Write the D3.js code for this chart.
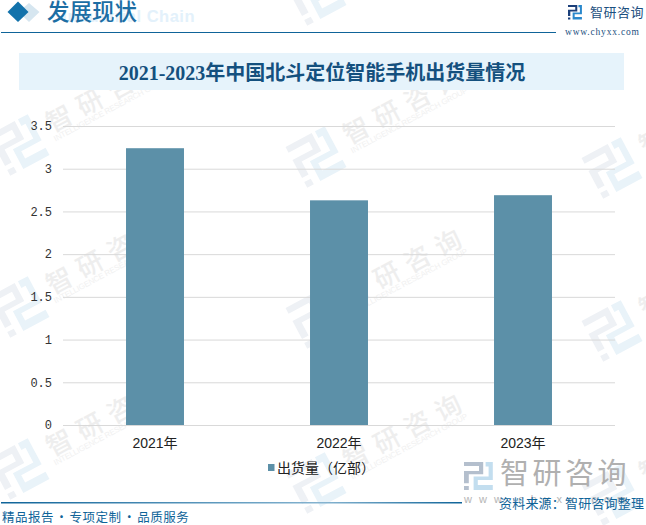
<!DOCTYPE html>
<html>
<head>
<meta charset="utf-8">
<script src="https://cdn.jsdelivr.net/npm/d3@7"></script>
<style>
body { margin: 0; background: #fff; }
text { font-family: "Noto Sans CJK SC", sans-serif; }
</style>
</head>
<body>
<div id="chart"></div>
<script>
// data
var years = ["2021年", "2022年", "2023年"];
var shipments = [3.24, 2.63, 2.69];
var yTicks = [0, 0.5, 1, 1.5, 2, 2.5, 3, 3.5];
var seriesName = "出货量（亿部）";
var chartTitle = "2021-2023年中国北斗定位智能手机出货量情况";

var width = 646, height = 525;
var margin = { top: 126, right: 31, bottom: 100, left: 63 };

var svg = d3.select("#chart").append("svg")
    .attr("width", width)
    .attr("height", height)
    .style("display", "block");

var defs = svg.append("defs");
var footGrad = defs.append("linearGradient").attr("id", "footGrad");
footGrad.append("stop").attr("offset", "0%").attr("stop-color", "#0f6499");
footGrad.append("stop").attr("offset", "70%").attr("stop-color", "#86b4d0");
footGrad.append("stop").attr("offset", "100%").attr("stop-color", "#0f6499");

// logo mark, 24 x 25 box
function logo(g, dark, light) {
    g.append("path").attr("fill", dark)
        .attr("d", "M0 0H16V11H4V19H0V8H12.500V3.500H0ZM0 21.500H4V25H0Z");
    g.append("path").attr("fill", light)
        .attr("d", "M18 0H24V16H11.500V20.500H24V25H8V13H20.500V4H18Z");
}

// watermarks first, they sit under everything
var marks = [[316, -5], [19, 145], [316, 157], [612, 168], [19, 307], [316, 318], [612, 331], [19, 469], [316, 483], [612, 495]];
var wm = svg.append("g");
marks.forEach(function(m) {
    var g = wm.append("g").attr("transform", "translate(" + m[0] + "," + m[1] + ") rotate(-28)");
    logo(g.append("g").attr("transform", "scale(1.85) translate(-12,-12.500)"), "#eef1f5", "#e9f3f9");
    if (m[1] < 0) return; // top one only shows its logo
    g.append("text").attr("x", 35).attr("y", 5)
        .attr("font-size", 26).attr("font-weight", 500).attr("letter-spacing", 8.600)
        .attr("fill", "#eeeeee").text("智研咨询");
    g.append("text").attr("x", 34).attr("y", 14)
        .attr("font-size", 8).attr("textLength", 131)
        .style("font-family", "Liberation Sans")
        .attr("fill", "#f1f1f1").text("INTELLIGENCE RESEARCH GROUP");
});

// header
svg.append("text").attr("x", 195).attr("y", 22)
    .attr("text-anchor", "end")
    .attr("font-size", 16.500).attr("font-weight", 700)
    .style("font-family", "Liberation Sans").attr("letter-spacing", 0.500)
    .attr("fill", "#e3f1fb").text("Industrial Chain");
svg.append("path").attr("d", "M29 3L39.500 12L29 22L18.500 12Z").attr("fill", "#d6e6f0");
svg.append("path").attr("d", "M18 1.500L28.500 12L18 22L7.500 12Z").attr("fill", "#1272ab");
svg.append("text").attr("x", 47).attr("y", 20)
    .attr("font-size", 22.500).attr("font-weight", 500)
    .attr("fill", "#1c6ea4").text("发展现状");
svg.append("rect").attr("x", 1).attr("y", 32).attr("width", 555).attr("height", 1).attr("fill", "#0f6499");

logo(svg.append("g").attr("transform", "translate(568,5) scale(0.58)"), "#1b3f7a", "#2a88cc");
svg.append("text").attr("x", 590).attr("y", 17)
    .attr("font-size", 13).attr("fill", "#1c4f80").attr("letter-spacing", 0.500).text("智研咨询");
svg.append("text").attr("x", 565).attr("y", 35)
    .attr("font-size", 9.500).style("font-family", "Liberation Serif")
    .attr("letter-spacing", 0.800).attr("fill", "#1c4f80").text("www.chyxx.com");

// title band
svg.append("rect").attr("x", 19).attr("y", 53).attr("width", 605).attr("height", 37).attr("fill", "#e6f3fb");
svg.append("text").attr("x", 322).attr("y", 80)
    .attr("text-anchor", "middle").attr("font-size", 20).attr("font-weight", 700)
    .style("font-family", "'Liberation Serif', 'Noto Sans CJK SC'")
    .attr("fill", "#14507e").text(chartTitle);

// chart
var plotW = width - margin.left - margin.right,
    plotH = height - margin.top - margin.bottom;

var x = d3.scaleBand().domain(years).range([margin.left, margin.left + plotW]).paddingInner(0.685).paddingOuter(0.3425);
var y = d3.scaleLinear().domain([0, 3.5]).range([margin.top + plotH, margin.top]);

var yAxis = d3.axisLeft(y)
    .tickValues(yTicks)
    .tickSize(-plotW)
    .tickPadding(11)
    .tickFormat(function(d) { return d; });

var yG = svg.append("g").attr("transform", "translate(" + margin.left + ",0)").call(yAxis);
yG.select(".domain").remove();
yG.selectAll(".tick line").attr("stroke", "#d9d9d9");
yG.selectAll(".tick text")
    .attr("font-size", 12)
    .style("font-family", "Liberation Mono")
    .attr("fill", "#333");

svg.append("g").selectAll("rect")
    .data(shipments)
    .enter().append("rect")
    .attr("x", function(d, i) { return x(years[i]); })
    .attr("y", function(d) { return y(d); })
    .attr("width", x.bandwidth())
    .attr("height", function(d) { return y(0) - y(d); })
    .attr("fill", "#5c90a8");

var xAxis = d3.axisBottom(x).tickSize(0).tickPadding(13);
var xG = svg.append("g").attr("transform", "translate(0," + y(0) + ")").call(xAxis);
xG.select(".domain").remove();
xG.selectAll(".tick text")
    .attr("font-size", 14)
    .style("font-family", "'Liberation Sans', 'Noto Sans CJK SC'")
    .attr("fill", "#222");

// legend
svg.append("rect").attr("x", 268).attr("y", 464).attr("width", 6.500).attr("height", 7).attr("fill", "#5c90a8");
svg.append("text").attr("x", 277).attr("y", 473)
    .attr("font-size", 14).attr("fill", "#222").text(seriesName);

// bottom right logo
logo(svg.append("g").attr("transform", "translate(464,462) scale(1.2,1.12)"), "#b4bfcd", "#c3deef");
svg.append("text").attr("x", 500).attr("y", 484)
    .attr("font-size", 29).attr("letter-spacing", 3.500).attr("fill", "#b0b0b0").text("智研咨询");
svg.append("text").attr("x", 464).attr("y", 503)
    .attr("font-size", 11).attr("letter-spacing", 7).attr("fill", "#b5b5b5")
    .style("font-family", "Liberation Sans").text("www.chyxx.com");

// footer
svg.append("rect").attr("x", 1).attr("y", 502).attr("width", 461).attr("height", 1.500).attr("fill", "url(#footGrad)");
svg.append("text").attr("x", 2).attr("y", 522)
    .attr("font-size", 12.500).attr("fill", "#0f6499").attr("letter-spacing", 0.500)
    .attr("word-spacing", -2)
    .text("精品报告 · 专项定制 · 品质服务");
svg.append("text").attr("x", 499).attr("y", 508)
    .attr("font-size", 13).attr("letter-spacing", 0.200).attr("fill", "#0f6499").text("资料来源：智研咨询整理");
</script>
</body>
</html>
